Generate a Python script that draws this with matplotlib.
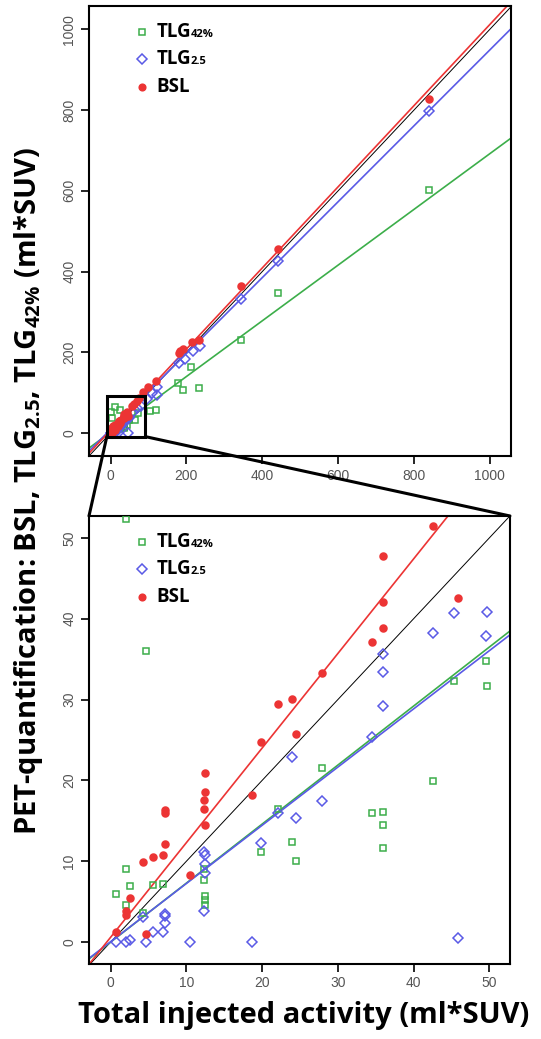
import matplotlib
matplotlib.use("Agg")
import matplotlib.pyplot as plt
from matplotlib.patches import Rectangle, ConnectionPatch
from matplotlib.lines import Line2D
from matplotlib.offsetbox import AnchoredOffsetbox, HPacker, VPacker, TextArea, DrawingArea

plt.rcParams["mathtext.fontset"] = "custom"
plt.rcParams["mathtext.rm"] = "Open Sans:bold"
plt.rcParams["mathtext.bf"] = "Open Sans:bold"
plt.rcParams["mathtext.default"] = "rm"

# total injected activity vs. PET quantification (ml*SUV)
bsl_x = [42.5, 36.0, 36.0, 45.8, 36.0, 34.5, 27.9, 22.1, 23.9, 24.5, 19.9, 18.7,
         12.5, 12.5, 12.3, 12.3, 12.5, 7.2, 7.2, 7.2, 6.9, 5.6, 4.3, 10.5, 2.5,
         2.0, 2.0, 0.7, 4.7,
         840, 442, 345, 233, 215, 192, 183, 180, 120, 99, 86, 57, 63, 70, 76]
bsl_y = [51.5, 47.7, 42.0, 42.6, 38.9, 37.1, 33.3, 29.5, 30.1, 25.7, 24.8, 18.2,
         20.9, 18.6, 17.6, 16.5, 14.5, 16.3, 16.0, 12.1, 10.8, 10.5, 9.9, 8.3, 5.5,
         3.8, 3.3, 1.3, 1.0,
         827, 455, 365, 231, 225, 209, 202, 198, 130, 113, 101, 66, 72, 80, 86]

tlg25_x = [49.7, 45.3, 42.5, 49.5, 36.0, 36.0, 36.0, 34.5, 23.9, 27.9, 22.1, 24.5,
           19.9, 12.3, 12.5, 12.5, 12.5, 12.3, 7.2, 7.2, 7.2, 6.9, 5.6, 4.3, 2.5,
           2.0, 0.7, 4.7, 10.5, 18.7, 45.8,
           840, 442, 345, 237, 218, 196, 181, 123, 123, 60, 70, 80, 95, 110]
tlg25_y = [40.8, 40.7, 38.2, 37.8, 35.6, 33.4, 29.2, 25.4, 22.9, 17.4, 16.0, 15.3,
           12.3, 11.1, 10.8, 9.7, 8.5, 3.8, 3.5, 3.2, 2.4, 1.2, 1.2, 3.1, 0.3,
           0.0, 0.0, 0.0, 0.0, 0.0, 0.5,
           799, 425, 333, 215, 204, 184, 173, 113, 95, 52, 62, 68, 85, 100]

tlg42_x = [2.0, 4.7, 49.5, 45.3, 49.7, 27.9, 42.5, 22.1, 34.5, 36.0, 36.0, 36.0,
           23.9, 19.9, 24.5, 2.0, 2.5, 0.7, 5.6, 6.9, 2.0, 12.3, 12.3, 12.5, 12.5,
           12.5, 4.3,
           840, 442, 345, 213, 178, 192, 233, 121, 104, 73, 64, 11, 24]
tlg42_y = [52.3, 36.0, 34.8, 32.3, 31.7, 21.5, 19.9, 16.5, 16.0, 16.1, 14.5, 11.7,
           12.4, 11.2, 10.0, 9.0, 7.0, 5.9, 7.1, 7.2, 4.6, 9.0, 7.7, 5.7, 5.2,
           4.6, 3.6,
           602, 346, 231, 164, 123, 107, 111, 57, 55, 49, 32, 65, 57]

# regression lines: TLG42%, TLG2.5, BSL
full_slopes = [0.69, 0.94, 1.005]
full_icepts = [2.0, 9.0, 7.0]
zoom_slopes = [0.73, 0.72, 1.17]
zoom_icepts = [0.0, 0.05, 0.6]

names = ["TLG", "TLG", "BSL"]
subs = ["42%", "2.5", ""]
colors = ["#3cae4a", "#5a5ae6", "#ec3434"]
markers = ["s", "D", "o"]
faces = ["none", "none", "#ec3434"]
sizes = [5.0, 5.5, 5.0]

series_x = [tlg42_x, tlg25_x, bsl_x]
series_y = [tlg42_y, tlg25_y, bsl_y]


def make_legend(ax):
    rows = []
    for i in range(3):
        da = DrawingArea(10, 10, 0, 0)
        da.add_artist(Line2D([5], [5], marker=markers[i], markersize=sizes[i] * 0.95,
                             markerfacecolor=faces[i], markeredgecolor=colors[i],
                             markeredgewidth=1.1, linestyle="none"))
        parts = [TextArea(names[i], textprops=dict(fontfamily="Open Sans", fontweight="bold",
                                                   fontsize=13.5, color="black"))]
        if subs[i]:
            parts.append(TextArea(subs[i], textprops=dict(fontfamily="Open Sans", fontweight="bold",
                                                          fontsize=8, color="black")))
        txt = HPacker(children=parts, align="baseline", pad=0, sep=0)
        rows.append(HPacker(children=[da, txt], align="center", pad=0, sep=5))
    box = VPacker(children=rows, align="left", pad=0, sep=5.5)
    anchored = AnchoredOffsetbox(loc="upper left", child=box, pad=0, borderpad=0,
                                 frameon=False, bbox_to_anchor=(0.11, 0.965),
                                 bbox_transform=ax.transAxes)
    ax.add_artist(anchored)


def style_axes(ax, ticks):
    for s in ax.spines.values():
        s.set_linewidth(1.5)
    ax.set_xticks(ticks)
    ax.set_yticks(ticks)
    ax.tick_params(direction="out", length=6, width=1.2, labelsize=10,
                   labelcolor="#555555", pad=3)
    ax.tick_params(axis="y", labelrotation=90)
    for lab in ax.get_yticklabels():
        lab.set_va("center")
    for lab in ax.get_xticklabels() + ax.get_yticklabels():
        lab.set_fontfamily("Liberation Sans")


def draw_panel(ax, slopes, icepts):
    ax.axline((0, 0), slope=1, color="black", lw=0.7, zorder=2)
    for i in range(3):
        ax.axline((0, icepts[i]), slope=slopes[i], color=colors[i], lw=1.2, zorder=2)
    for i in range(3):
        ax.plot(series_x[i], series_y[i], linestyle="none", marker=markers[i],
                markersize=sizes[i], markerfacecolor=faces[i], markeredgecolor=colors[i],
                markeredgewidth=1.1, zorder=3)


fig = plt.figure(figsize=(5.41, 10.39), dpi=100)
ax_top = fig.add_axes([0.1645, 0.5611, 0.780, 0.4331])
ax_bot = fig.add_axes([0.1645, 0.0722, 0.778, 0.4312])

draw_panel(ax_top, full_slopes, full_icepts)
ax_top.set_xlim(-57, 1056)
ax_top.set_ylim(-57, 1058)
style_axes(ax_top, [0, 200, 400, 600, 800, 1000])
make_legend(ax_top)

draw_panel(ax_bot, zoom_slopes, zoom_icepts)
ax_bot.set_xlim(-2.85, 52.7)
ax_bot.set_ylim(-2.7, 52.7)
style_axes(ax_bot, [0, 10, 20, 30, 40, 50])
make_legend(ax_bot)

# zoom box and connectors
ax_top.add_patch(Rectangle((-10, -9), 102, 101, fill=False, lw=2.2, ec="black", zorder=6))
for xa, xb in [(-10, 0), (92, 1)]:
    con = ConnectionPatch(xyA=(xa, -9), coordsA=ax_top.transData,
                          xyB=(xb, 1), coordsB=ax_bot.transAxes,
                          color="black", lw=2.2, zorder=6)
    fig.add_artist(con)

fig.text(0.052, 1 - 491 / 1039, r"PET-quantification: BSL, TLG$_{2.5}$, TLG$_{42\%}$ (ml*SUV)",
         rotation=90, ha="center", va="center", fontfamily="Open Sans",
         fontweight="bold", fontsize=21)
fig.text(0.562, 1 - 1015 / 1039, "Total injected activity (ml*SUV)",
         ha="center", va="center", fontfamily="Open Sans", fontweight="bold", fontsize=21)

fig.savefig("out.png", dpi=100)
